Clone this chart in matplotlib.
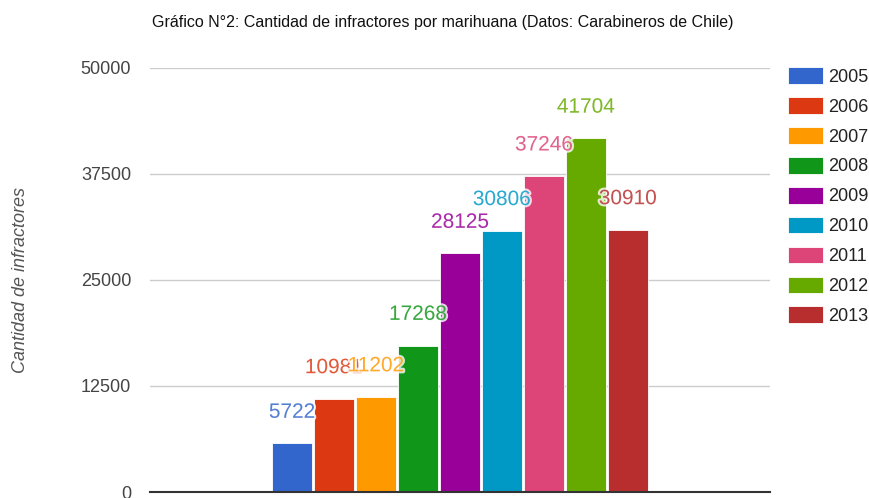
import matplotlib.pyplot as plt
import matplotlib.patheffects as pe

years = ['2005', '2006', '2007', '2008', '2009', '2010', '2011', '2012', '2013']
infractores = [5722, 10981, 11202, 17268, 28125, 30806, 37246, 41704, 30910]
colores = ['#3366cc', '#dc3912', '#ff9900', '#109618', '#990099',
           '#0099c6', '#dd4477', '#66aa00', '#b82e2e']
yticks = [0, 12500, 25000, 37500, 50000]

fig = plt.figure(figsize=(8.7, 4.98), dpi=100)
ax = fig.add_axes([150/870, 6/498, 620/870, 424/498])

pos = list(range(len(years)))
bars = ax.bar(pos, infractores, width=0.952, color=colores, label=years,
              edgecolor='white', linewidth=0.6, zorder=3)

for x, v, c in zip(pos, infractores, colores):
    ax.annotate(str(v), (x, v), xytext=(0, 18.5), textcoords='offset points',
                ha='center', va='baseline', fontsize=15, color=c, alpha=0.8,
                family='Liberation Sans', zorder=5,
                path_effects=[pe.withStroke(linewidth=3, foreground='white')])

ax.set_xlim(-3.381, 11.381)
ax.set_ylim(0, 50000)
ax.set_yticks(yticks)
ax.set_yticklabels([str(t) for t in yticks], fontsize=13, color='#444444',
                   family='Liberation Sans')
ax.tick_params(axis='y', length=0, pad=13.5)
ax.set_xticks([])
ax.grid(axis='y', color='#cccccc', linewidth=1, zorder=0)
for s in ['top', 'right', 'left']:
    ax.spines[s].set_visible(False)
ax.spines['bottom'].set_color('#333333')
ax.spines['bottom'].set_linewidth(1.5)
ax.spines['bottom'].set_zorder(4)

ax.set_ylabel('Cantidad de infractores', fontsize=13, style='italic',
              color='#555555', family='Liberation Sans', labelpad=37)

leg = ax.legend(handles=bars.patches, labels=years, loc='upper left',
                bbox_to_anchor=(638/620, 1.002), frameon=False,
                handlelength=1.94, handleheight=1.05, handletextpad=0.3,
                labelspacing=0.63, borderpad=0, borderaxespad=0,
                prop={'family': 'Liberation Sans', 'size': 13})
for t in leg.get_texts():
    t.set_color('#222222')

fig.text(443/870, 1 - 22/498, 'Gráfico N°2: Cantidad de infractores por marihuana (Datos: Carabineros de Chile)',
         ha='center', va='center', fontsize=11.5, color='#111111',
         family='Liberation Sans')

fig.savefig('out.png', dpi=100)
